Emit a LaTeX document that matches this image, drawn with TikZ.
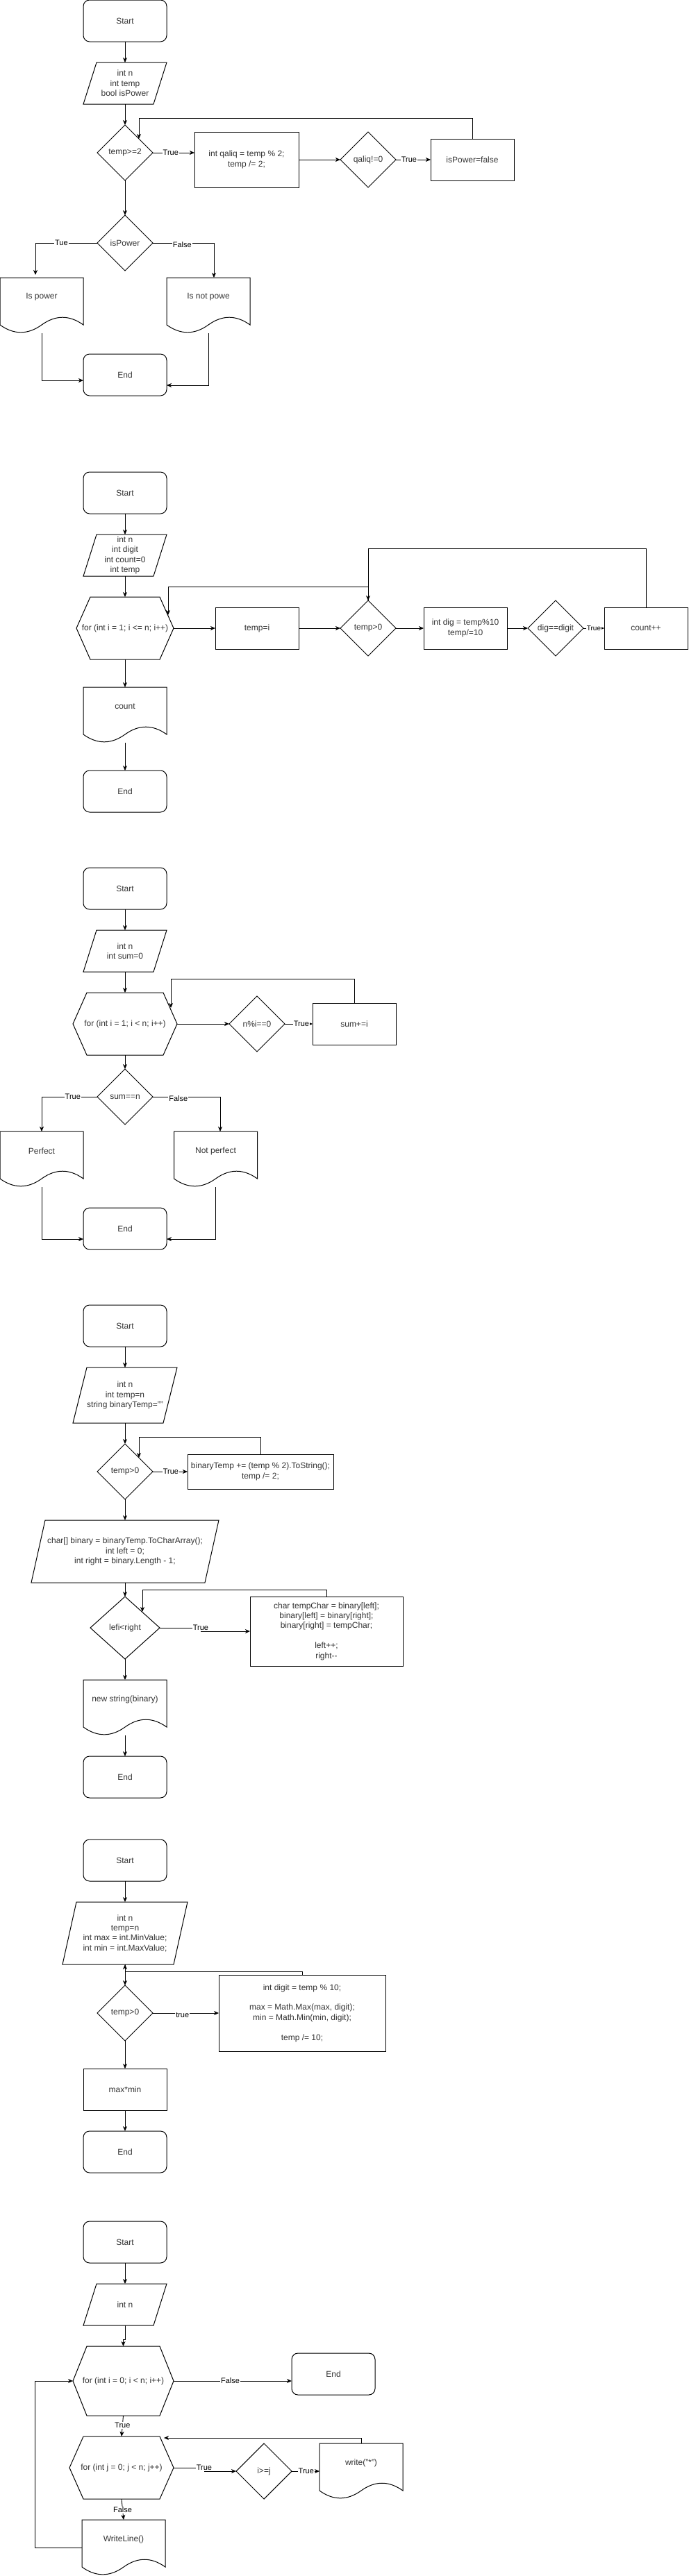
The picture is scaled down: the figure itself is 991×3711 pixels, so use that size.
\documentclass[tikz,border=0pt]{standalone}
\usepackage{fontspec}
\setmainfont{Liberation Sans}
\usetikzlibrary{calc,arrows.meta}
\definecolor{txt}{HTML}{333333}
\tikzset{
  every node/.style={font=\fontsize{12}{14.4}\selectfont, text=txt},
  ln/.style={line width=1pt, draw=black, line join=miter},
  arr/.style={line width=0.9pt, draw=black, -{Stealth[length=7pt,width=6pt,inset=2pt]}},
  term/.style={draw, line width=1pt, rounded corners=9pt, minimum width=120pt, minimum height=60pt, inner sep=0pt, outer sep=0pt, align=center},
  box/.style={draw, line width=1pt, inner sep=0pt, outer sep=0pt, align=center},
  shp/.style={draw=none, inner sep=0pt, outer sep=0pt, align=center},
  docn/.style={draw=none, inner sep=0pt, outer sep=0pt, align=center, minimum height=56pt},
  lbl/.style={font=\fontsize{11}{13}\selectfont, fill=white, inner sep=1pt, text=black}
}
\newcommand\paral[2]{\draw[ln] ($(#1.north west)+(#2,0)$) -- (#1.north east) -- ($(#1.south east)+(-#2,0)$) -- (#1.south west) -- cycle;}
\newcommand\hexa[2]{\draw[ln] ($(#1.north west)+(#2,0)$) -- ($(#1.north east)+(-#2,0)$) -- (#1.east) -- ($(#1.south east)+(-#2,0)$) -- ($(#1.south west)+(#2,0)$) -- (#1.west) -- cycle;}
\newcommand\diam[1]{\draw[ln] (#1.north) -- (#1.east) -- (#1.south) -- (#1.west) -- cycle;}
\newcommand\docu[3]{\draw[ln] (#1.north west) -- (#1.north east) -- ($(#1.north east)+(0,{0.85*#3})$)
  .. controls ($(#1.north east)+({-#2/6},{0.67*#3})$) and ($(#1.north west)+({2*#2/3},{0.67*#3})$) .. ($(#1.north west)+({#2/2},{0.85*#3})$)
  .. controls ($(#1.north west)+({#2/3},{1.03*#3})$) and ($(#1.north west)+({#2/6},{1.03*#3})$) .. ($(#1.north west)+(0,{0.85*#3})$) -- cycle;}
\begin{document}
\begin{tikzpicture}[x=1pt,y=-1pt]
\fill[white] (0,0) rectangle (991,3711);
\useasboundingbox (0,0) rectangle (991,3711);

% ---------------- Section 1
\node[term] (s1start) at (180,30) {Start};
\node[shp, minimum width=120pt, minimum height=60pt] (s1in) at (180,120) {int n\\int temp\\bool isPower};
\paral{s1in}{19}
\node[shp, minimum width=80pt, minimum height=80pt] (s1d1) at (180,220) {temp>=2};
\diam{s1d1}
\node[box, minimum width=150pt, minimum height=80pt] (s1b1) at (355,230) {int qaliq = temp \% 2;\\temp /= 2;};
\node[shp, minimum width=80pt, minimum height=80pt] (s1d2) at (530,230) {qaliq!=0};
\diam{s1d2}
\node[box, minimum width=120pt, minimum height=60pt] (s1b2) at (680,230) {isPower=false};
\node[shp, minimum width=80pt, minimum height=80pt] (s1d3) at (180,350) {isPower};
\diam{s1d3}
\node[docn, minimum width=120pt] (s1p) at (60,428) {Is power};
\docu{s1p}{120}{80}
\node[docn, minimum width=120pt] (s1np) at (300,428) {Is not powe};
\docu{s1np}{120}{80}
\node[term] (s1end) at (180,540) {End};

\draw[arr] (s1start.south) -- (s1in.north);
\draw[arr] (s1in.south) -- (s1d1.north);
\draw[arr] (s1d1.east) -- node[lbl,pos=0.43]{True} (s1d1.east -| s1b1.west);
\draw[arr] (s1b1.east) -- (s1d2.west);
\draw[arr] (s1d2.east) -- node[lbl,pos=0.38]{True} (s1b2.west);
\coordinate (s1l) at (200,200);
\draw[arr] (s1b2.north) -- (680,170) -- (200,170) -- (s1l);
\draw[arr] (s1d1.south) -- (s1d3.north);
\coordinate (s1t) at (51,396);
\draw[arr] (s1d3.west) -- node[lbl,pos=0.58]{Tue} (51,350) -- (s1t);
\coordinate (s1f) at (308,400);
\draw[arr] (s1d3.east) -- node[lbl,pos=0.48,yshift=-3pt]{False} (308,350) -- (s1f);
\coordinate (s1e1) at (120,548);
\coordinate (s1e2) at (240,555);
\draw[arr] ($(s1p.south)+(0,24)$) |- (s1e1);
\draw[arr] ($(s1np.south)+(0,24)$) |- (s1e2);

% ---------------- Section 2
\node[term] (s2start) at (180,710) {Start};
\node[shp, minimum width=120pt, minimum height=60pt] (s2in) at (180,800) {int n\\int digit\\int count=0\\int temp};
\paral{s2in}{19}
\node[shp, minimum width=140pt, minimum height=90pt] (s2for) at (180,905) {for (int i = 1; i <= n; i++)};
\hexa{s2for}{20}
\node[box, minimum width=120pt, minimum height=60pt] (s2b1) at (370,905) {temp=i};
\node[shp, minimum width=80pt, minimum height=80pt] (s2d1) at (530,905) {temp>0};
\diam{s2d1}
\node[box, minimum width=120pt, minimum height=60pt] (s2b2) at (670,905) {int dig = temp\%10\\temp/=10};
\node[shp, minimum width=80pt, minimum height=80pt] (s2d2) at (800,905) {dig==digit};
\diam{s2d2}
\node[box, minimum width=120pt, minimum height=60pt] (s2b3) at (930,905) {count++};
\node[docn, minimum width=120pt] (s2doc) at (180,1018) {count};
\docu{s2doc}{120}{80}
\node[term] (s2end) at (180,1140) {End};

\draw[arr] (s2start.south) -- (s2in.north);
\draw[arr] (s2in.south) -- (s2for.north);
\draw[arr] (s2for.east) -- (s2b1.west);
\draw[arr] (s2b1.east) -- (s2d1.west);
\draw[arr] (s2d1.east) -- (s2b2.west);
\draw[arr] (s2b2.east) -- (s2d2.west);
\draw[arr] (s2d2.east) -- node[lbl,pos=0.5,font=\fontsize{10}{12}\selectfont]{True} (s2b3.west);
\draw[arr] (s2b3.north) -- (930,790) -- (530,790) -- (s2d1.north);
\coordinate (s2l) at (242,886);
\draw[arr] (s2d1.north) -- (530,845) -- (242,845) -- (s2l);
\draw[arr] (s2for.south) -- (s2doc.north);
\draw[arr] ($(s2doc.south)+(0,24)$) -- (s2end.north);

% ---------------- Section 3
\node[term] (s3start) at (180,1280) {Start};
\node[shp, minimum width=120pt, minimum height=60pt] (s3in) at (180,1370) {int n\\int sum=0};
\paral{s3in}{19}
\node[shp, minimum width=150pt, minimum height=90pt] (s3for) at (180,1475) {for (int i = 1; i < n; i++)};
\hexa{s3for}{20}
\node[shp, minimum width=80pt, minimum height=80pt] (s3d1) at (370,1475) {n\%i==0};
\diam{s3d1}
\node[box, minimum width=120pt, minimum height=60pt] (s3b1) at (510,1475) {sum+=i};
\node[shp, minimum width=80pt, minimum height=80pt] (s3d2) at (180,1580) {sum==n};
\diam{s3d2}
\node[docn, minimum width=120pt] (s3p) at (60,1658) {Perfect};
\docu{s3p}{120}{80}
\node[docn, minimum width=120pt] (s3np) at (310.5,1658) {Not perfect};
\docu{s3np}{120}{80}
\node[term] (s3end) at (180,1770) {End};

\draw[arr] (s3start.south) -- (s3in.north);
\draw[arr] (s3in.south) -- (s3for.north);
\draw[arr] (s3for.east) -- (s3d1.west);
\draw[arr] (s3d1.east) -- node[lbl,pos=0.6]{True} (s3b1.west);
\coordinate (s3l) at (246,1452);
\draw[arr] (s3b1.north) -- (510,1410) -- (246,1410) -- (s3l);
\draw[arr] (s3for.south) -- (s3d2.north);
\coordinate (s3t) at (60,1630);
\draw[arr] (s3d2.west) -- node[lbl,pos=0.44]{True} (60,1580) -- (s3t);
\coordinate (s3f) at (317,1630);
\draw[arr] (s3d2.east) -- node[lbl,pos=0.38,yshift=-3pt]{False} (317,1580) -- (s3f);
\coordinate (s3e1) at (120,1785);
\coordinate (s3e2) at (240,1785);
\draw[arr] ($(s3p.south)+(0,24)$) |- (s3e1);
\draw[arr] ($(s3np.south)+(0,24)$) |- (s3e2);

% ---------------- Section 4
\node[term] (s4start) at (180,1910) {Start};
\node[shp, minimum width=150pt, minimum height=80pt] (s4in) at (180,2010) {int n\\int temp=n\\string binaryTemp=""};
\paral{s4in}{20}
\node[shp, minimum width=80pt, minimum height=80pt] (s4d1) at (180,2120) {temp>0};
\diam{s4d1}
\node[box, minimum width=210pt, minimum height=50pt] (s4b1) at (375,2120) {binaryTemp += (temp \% 2).ToString();\\temp /= 2;};
\node[shp, minimum width=270pt, minimum height=90pt] (s4in2) at (180,2235) {char[] binary = binaryTemp.ToCharArray();\\int left = 0;\\int right = binary.Length - 1;};
\paral{s4in2}{20}
\node[shp, minimum width=100pt, minimum height=90pt] (s4d2) at (180,2345) {lefi<right};
\diam{s4d2}
\node[box, minimum width=220pt, minimum height=100pt] (s4b2) at (470,2350) {char tempChar = binary[left];\\binary[left] = binary[right];\\binary[right] = tempChar;\\[14.4pt]left++;\\right-{}-};
\node[docn, minimum width=120pt] (s4doc) at (180,2448) {new string(binary)};
\docu{s4doc}{120}{80}
\node[term] (s4end) at (180,2560) {End};

\draw[arr] (s4start.south) -- (s4in.north);
\draw[arr] (s4in.south) -- (s4d1.north);
\draw[arr] (s4d1.east) -- node[lbl,pos=0.52]{True} (s4b1.west);
\coordinate (s4l) at (200,2100);
\draw[arr] (s4b1.north) -- (375,2070) -- (200,2070) -- (s4l);
\draw[arr] (s4d1.south) -- (s4in2.north);
\draw[arr] (s4in2.south) -- (s4d2.north);
\draw[arr] (s4d2.east) -- (289,2345) node[lbl]{True} -- (289,2350) -- (s4b2.west);
\coordinate (s4l2) at (205,2322);
\draw[arr] (s4b2.north) -- (470,2290) -- (205,2290) -- (s4l2);
\draw[arr] (s4d2.south) -- (s4doc.north);
\draw[arr] ($(s4doc.south)+(0,24)$) -- (s4end.north);

% ---------------- Section 5
\node[term] (s5start) at (180,2680) {Start};
\node[shp, minimum width=180pt, minimum height=90pt] (s5in) at (180,2785) {int n\\temp=n\\int max = int.MinValue;\\int min = int.MaxValue;};
\paral{s5in}{20}
\node[shp, minimum width=80pt, minimum height=80pt] (s5d1) at (180,2900) {temp>0};
\diam{s5d1}
\node[box, minimum width=240pt, minimum height=110pt] (s5b1) at (435,2900) {int digit = temp \% 10;\\[14.4pt]max = Math.Max(max, digit);\\min = Math.Min(min, digit);\\[14.4pt]temp /= 10;};
\node[box, minimum width=120pt, minimum height=60pt] (s5b2) at (180,3010) {max*min};
\node[term] (s5end) at (180,3100) {End};

\draw[arr] (s5start.south) -- (s5in.north);
\draw[arr] (s5in.south) -- (s5d1.north);
\draw[arr] (s5d1.east) -- node[lbl,pos=0.45,yshift=-3pt]{true} (s5b1.west);
\draw[arr] (s5b1.north) -- (435,2840) -- (180,2840) -- (s5in.south);
\draw[arr] (s5d1.south) -- (s5b2.north);
\draw[arr] (s5b2.south) -- (s5end.north);

% ---------------- Section 6
\node[term] (s6start) at (180,3230) {Start};
\node[shp, minimum width=120pt, minimum height=60pt] (s6in) at (180,3320) {int n};
\paral{s6in}{19}
\node[shp, minimum width=145pt, minimum height=100pt] (s6f1) at (177.5,3430) {for (int i = 0; i < n; i++)};
\hexa{s6f1}{20}
\node[term] (s6end) at (480,3420) {End};
\node[shp, minimum width=150pt, minimum height=90pt] (s6f2) at (175,3555) {for (int j = 0; j < n; j++)};
\hexa{s6f2}{20}
\node[shp, minimum width=80pt, minimum height=80pt] (s6d) at (380,3560) {i>=j};
\diam{s6d}
\node[docn, minimum width=120pt] (s6w) at (520,3548) {write("*")};
\docu{s6w}{120}{80}
\node[docn, minimum width=120pt] (s6wl) at (178,3658) {WriteLine()};
\docu{s6wl}{120}{80}

\draw[arr] (s6start.south) -- (s6in.north);
\draw[arr] (s6in.south) -- (180,3370) -| (s6f1.north);
\draw[arr] (s6f1.east) -- node[lbl,pos=0.48]{False} (s6f1.east -| s6end.west);
\draw[arr] (s6f1.south) -- node[lbl,pos=0.47]{True} (s6f2.north);
\draw[arr] (s6f2.east) -- (294,3555) node[lbl]{True} -- (294,3560) -- (s6d.west);
\draw[arr] (s6d.east) -- node[lbl,pos=0.52]{True} (s6d.east -| s6w.west);
\coordinate (s6l) at (236,3512);
\draw[arr] (s6w.north) |- (s6l);
\draw[arr] (s6f2.south) -- node[lbl,pos=0.53]{False} (s6wl.north);
\draw[arr] ($(s6wl.south west)+(0,-16)$) -- (50,3670) |- (s6f1.west);
\end{tikzpicture}
\end{document}
